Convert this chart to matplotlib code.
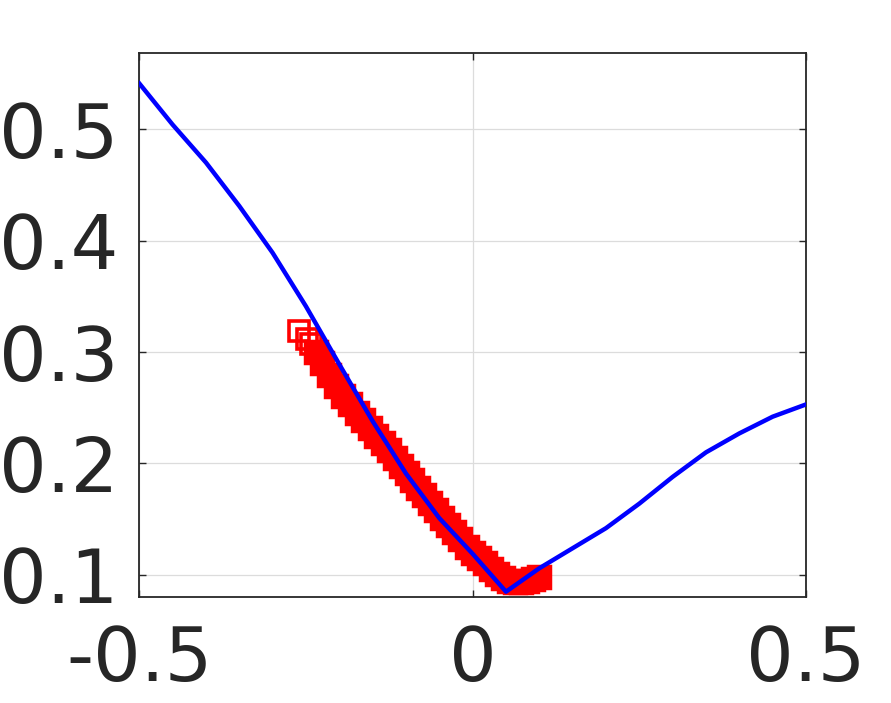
import matplotlib
matplotlib.use("Agg")
import matplotlib.pyplot as plt

# Blue curve
curve_x = [-0.5, -0.45, -0.4, -0.35, -0.3, -0.25, -0.2, -0.15, -0.1, -0.05,
           0.0, 0.05, 0.1, 0.15, 0.2, 0.25, 0.3, 0.35, 0.4, 0.45, 0.5]
curve_y = [0.541, 0.504, 0.470, 0.431, 0.389, 0.341, 0.289, 0.238, 0.191, 0.151,
           0.119, 0.085, 0.106, 0.124, 0.142, 0.164, 0.188, 0.210, 0.227, 0.242, 0.253]

# Red trajectory (square markers)
path_x = [-0.2605, -0.2485, -0.2425, -0.2350, -0.2260, -0.2155, -0.2050, -0.1945,
          -0.1840, -0.1735, -0.1645, -0.1540, -0.1450, -0.1345, -0.1255, -0.1165,
          -0.1075, -0.0985, -0.0910, -0.0820, -0.0730, -0.0640, -0.0550, -0.0460,
          -0.0370, -0.0280, -0.0190, -0.0085, 0.0005, 0.0095, 0.0185, 0.0275,
          0.0365, 0.0455, 0.0545, 0.0635, 0.0725, 0.0815, 0.0905, 0.0995]
path_y = [0.3190, 0.3118, 0.3074, 0.3002, 0.2903, 0.2795, 0.2697, 0.2607,
          0.2535, 0.2454, 0.2391, 0.2319, 0.2248, 0.2185, 0.2122, 0.2050,
          0.1978, 0.1916, 0.1853, 0.1781, 0.1718, 0.1646, 0.1584, 0.1512,
          0.1449, 0.1386, 0.1323, 0.1251, 0.1197, 0.1153, 0.1108, 0.1054,
          0.1009, 0.0973, 0.0946, 0.0937, 0.0937, 0.0946, 0.0964, 0.0982]

xticks = [-0.5, 0.0, 0.5]
xticklabels = ["-0.5", "0", "0.5"]
yticks = [0.1, 0.2, 0.3, 0.4, 0.5]
yticklabels = ["0.1", "0.2", "0.3", "0.4", "0.5"]

txt = "#262626"
fig = plt.figure(figsize=(8.91, 7.03), dpi=100)
ax = fig.add_axes([0.1563, 0.1512, 0.9046 - 0.1563, 0.9242 - 0.1512])

n_hollow = 3
ax.plot(path_x[:n_hollow], path_y[:n_hollow], linestyle="none", marker="s",
        markersize=14.5, markerfacecolor="none", markeredgecolor="red",
        markeredgewidth=2.6, zorder=3)
ax.plot(path_x[n_hollow:], path_y[n_hollow:], linestyle="none", marker="s",
        markersize=16.5, markerfacecolor="red", markeredgecolor="red",
        markeredgewidth=2.5, zorder=3)
ax.plot(curve_x, curve_y, color="blue", linewidth=3.2, zorder=4)

ax.set_xlim(-0.5, 0.5)
ax.set_ylim(0.0805, 0.568)
ax.set_xticks(xticks)
ax.set_xticklabels(xticklabels)
ax.set_yticks(yticks)
ax.set_yticklabels(yticklabels)

ax.grid(True, color="#dcdcdc", linewidth=0.9, zorder=0)
ax.set_axisbelow(True)
ax.tick_params(axis="both", direction="in", length=5, width=1, color=txt,
               labelsize=54, labelcolor=txt, top=True, right=True)
ax.tick_params(axis="x", pad=20)
ax.tick_params(axis="y", pad=15)
for lab in ax.get_xticklabels() + ax.get_yticklabels():
    lab.set_family("DejaVu Sans")
for s in ax.spines.values():
    s.set_color(txt)
    s.set_linewidth(1.3)

fig.savefig("out.png", dpi=100)
